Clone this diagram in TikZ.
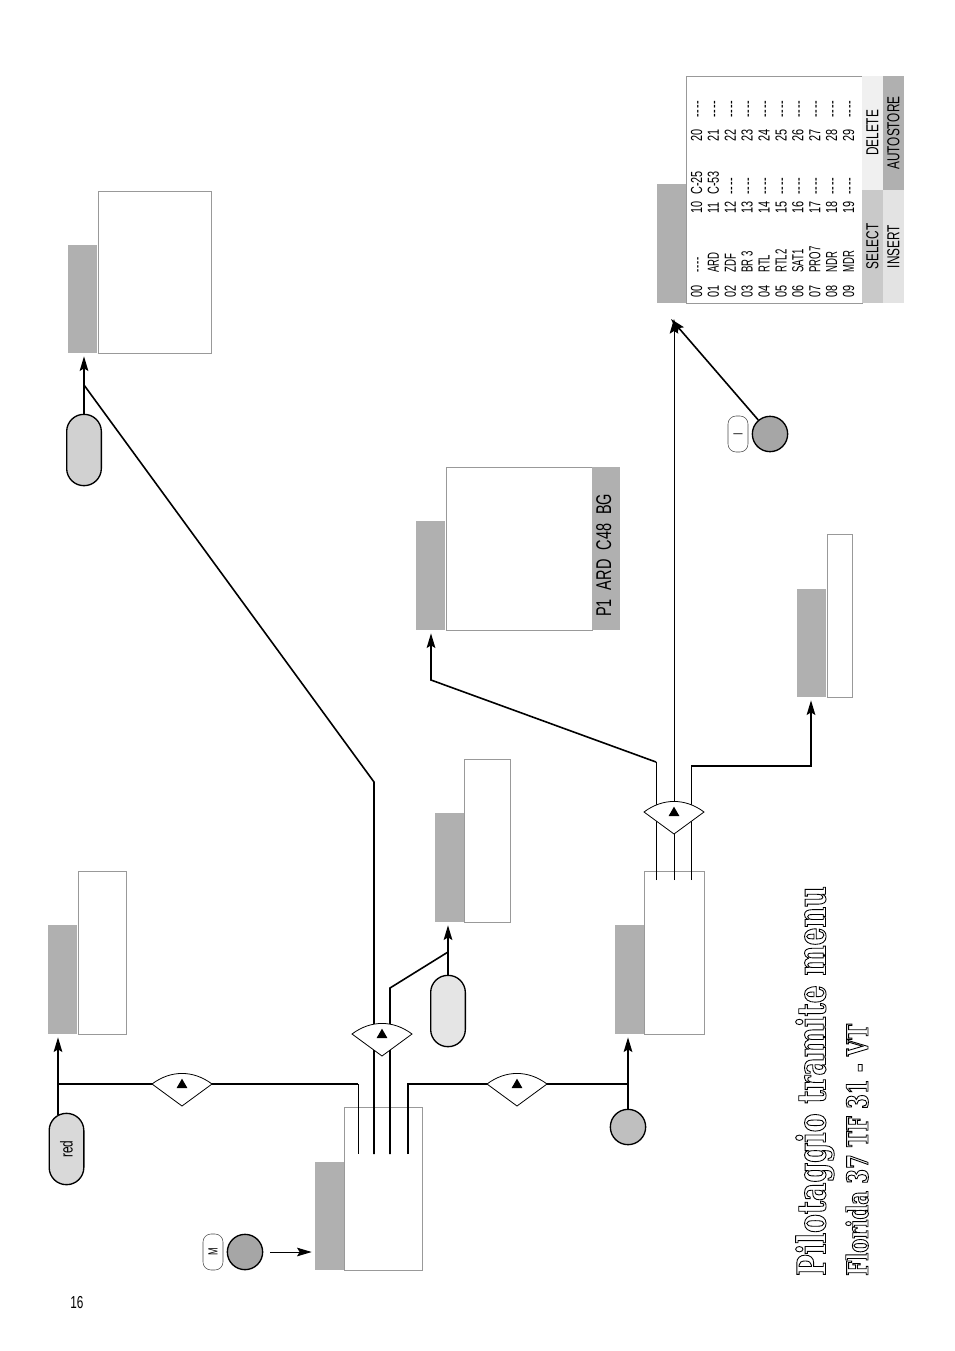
\documentclass[tikz,border=0pt]{standalone}
\usepackage{fontspec}
\usetikzlibrary{arrows.meta,shapes.geometric}
\setmainfont[FakeStretch=0.68]{Liberation Sans}
\newfontfamily\namefont[FakeStretch=0.6]{Liberation Sans}
\newfontfamily\titlefont[FakeStretch=0.72]{DejaVu Serif Bold}
\definecolor{tabgray}{HTML}{B0B0B0}
\definecolor{panegray}{HTML}{999999}
\newcommand{\nochan}{-\kern.7pt-\kern.7pt-\kern.7pt-}
\newcommand{\outlined}[1]{\special{pdf:code 1 Tr 0.65 w}#1\special{pdf:code 0 Tr}}
\tikzset{
  pane/.style 2 args={draw=panegray,fill=white,line width=.6pt,anchor=north west,inner sep=0,outer sep=0,minimum width=#1*.75pt,minimum height=#2*.75pt},
  tabpane/.style 2 args={fill=#2,anchor=north west,inner sep=0,outer sep=0,minimum width=29*.75pt,minimum height=#1*.75pt},
  softkey/.style 2 args={fill=#2,anchor=north west,inner sep=0,outer sep=0,minimum width=21*.75pt,minimum height=#1*.75pt},
  pill/.style={draw,line width=1pt,fill=#1,rotate=90,minimum width=53.5pt,minimum height=26pt,inner sep=0,rounded corners=12.9pt,font=\fontsize{13}{13}\selectfont},
  button/.style={draw,line width=1pt,fill=#1,circle,minimum size=26.5pt,inner sep=0},
  keycap/.style={draw=black!70,line width=.4pt,fill=white,rotate=90,minimum width=27pt,minimum height=15pt,inner sep=0,rounded corners=6pt,font=\fontsize{10}{10}\selectfont},
  wire/.style={line width=1.2pt},
  thinwire/.style={line width=.7pt},
  tip/.style={-{Stealth[length=11pt,width=6.5pt,inset=2pt]},shorten >=2.5pt},
  cell/.style={rotate=90,anchor=base west,inner sep=0,font=\fontsize{12}{12}\selectfont},
  softlabel/.style={rotate=90,inner sep=0,font=\fontsize{13}{13}\selectfont},
  pointer/.style={regular polygon,regular polygon sides=3,fill=black,inner sep=0,outer sep=0,minimum size=9.5pt}
}
\begin{document}
\begin{tikzpicture}[x=.75pt,y=-.75pt]
\useasboundingbox (0,0) rectangle (954,1351);
% tabs and screens
\node[tabpane={108}{tabgray}] (taba) at (68,245) {};
\node[pane={113}{162}] (panea) at (98,191) {};
\node[tabpane={109}{tabgray}] (tabb) at (416,521) {};
\node[pane={146}{163}] (paneb) at (446,467) {};
\node[fill=tabgray,anchor=north west,inner sep=0,outer sep=0,minimum width=28*.75pt,minimum height=163*.75pt] (barb) at (592,467) {};
\node[rotate=90,anchor=base west,inner sep=0,font=\fontsize{16}{16}\selectfont] (barbtext) at (611,617) {P1\hspace{.42em}ARD\hspace{.42em}C48\hspace{.42em}BG};
\node[tabpane={108}{tabgray}] (tabc) at (797,589) {};
\node[pane={25}{163}] (panec) at (827,534) {};
\node[tabpane={109}{tabgray}] (tabd) at (435,813) {};
\node[pane={46}{163}] (paned) at (464,759) {};
\node[tabpane={109}{tabgray}] (tabe) at (48,925) {};
\node[pane={48}{163}] (panee) at (78,871) {};
\node[tabpane={109}{tabgray}] (tabf) at (615,925) {};
\node[pane={60}{163}] (panef) at (644,871) {};
\node[tabpane={108}{tabgray}] (tabg) at (315,1162) {};
\node[pane={78}{163}] (paneg) at (344,1107) {};
% channel table
\node[tabpane={119}{tabgray}] (tabt) at (657,184) {};
\node[pane={176}{227}] (panet) at (686,76) {};
\node[softkey={114}{black!6}] (keydel) at (862,76) {};
\node[softkey={113}{black!21}] (keysel) at (862,190) {};
\node[softkey={114}{tabgray}] (keyauto) at (883,76) {};
\node[softkey={113}{black!11}] (keyins) at (883,190) {};
\node[softlabel] (deltext) at (keydel) {DELETE};
\node[softlabel] (seltext) at (keysel) {SELECT};
\node[softlabel] (autotext) at (keyauto) {AUTOSTORE};
\node[softlabel] (instext) at (keyins) {INSERT};
\foreach \i/\st in {0/\nochan,1/ARD,2/ZDF,3/BR 3,4/RTL,5/RTL2,6/SAT1,7/PRO7,8/NDR,9/MDR}{
  \node[cell] (codea\i) at (702+16.9*\i,298) {0\i};
  \node[cell] (namea\i) at (702+16.9*\i,273) {\namefont\st};
  \node[cell] (codec\i) at (702+16.9*\i,142) {2\i};
  \node[cell] (namec\i) at (702+16.9*\i,118) {\nochan};
}
\foreach \i/\st in {0/C-25,1/C-53,2/\nochan,3/\nochan,4/\nochan,5/\nochan,6/\nochan,7/\nochan,8/\nochan,9/\nochan}{
  \node[cell] (codeb\i) at (702+16.9*\i,214) {1\i};
  \node[cell] (nameb\i) at (702+16.9*\i,195) {\st};
}
% remote keys
\node[pill=black!15] (redpill) at (66.5,1149) {red};
\node[pill=black!18] (toppill) at (84,450) {};
\node[pill=black!10] (midpill) at (448,1011) {};
\node[button=black!25] (roundkey) at (628,1127) {};
\node[button=black!35] (menukey) at (245,1252) {};
\node[keycap] (mcap) at (213,1252) {M};
\node[button=black!35] (infokey) at (770,434) {};
\node[keycap] (icap) at (738,434) {I};
% wires from the menu screen
\coordinate (wa) at (358,1154);
\coordinate (wb) at (374,1154);
\coordinate (wc) at (390,1154);
\coordinate (wd) at (408,1154);
\coordinate (ja) at (58,1084);
\coordinate (jb) at (84,385);
\coordinate (jc) at (448,952);
\coordinate (jd) at (628,1084);
\draw[wire,tip] ([yshift=-1.5pt]redpill.east -| ja) -- (ja) -- (ja |- tabe.south);
\draw[wire] (ja) -- (wa |- ja);
\draw[thinwire] (wa |- ja) -- (wa);
\draw[wire,tip] (toppill.east) -- (jb) -- (jb |- taba.south);
\draw[wire] (wb) -- (374,782) -- (jb);
\draw[wire,tip] (midpill.east) -- (jc) -- (jc |- tabd.south);
\draw[wire] (wc) -- (390,988) -- (jc);
\draw[wire,tip] (roundkey.north) -- (jd) -- (jd |- tabf.south);
\draw[wire] (wd) -- (408,1084) -- (jd);
\draw[thinwire,tip] (menukey.east) ++(7,0) -- (menukey.east -| tabg.west);
% wires from the second screen
\coordinate (va) at (656,880);
\coordinate (vb) at (674,880);
\coordinate (vc) at (691,880);
\coordinate (je) at (431,680);
\coordinate (jf) at (811,766);
\coordinate (tabletipa) at (674,319);
\coordinate (tabletipb) at (671,319);
\draw[thinwire] (va) -- (656,762);
\draw[wire,tip] (656,762) -- (je) -- (je |- tabb.south);
\draw[thinwire,tip,shorten >=0pt] (vb) -- (tabletipa);
\draw[thinwire] (vc) -- (691,766);
\draw[wire,tip] (691,766) -- (jf) -- (jf |- tabc.south);
\draw[wire,tip,shorten >=0pt] (infokey.130) -- (tabletipb);
% fans
\foreach \fx/\fy/\fn in {382/1034/m,674/812/v,182/1084/r,517/1084/c}{
  \draw[fill=white,line width=.6pt] (\fx-30,\fy) to[bend left=37] (\fx+30,\fy) -- (\fx,\fy+22) -- cycle;
  \node[pointer] (fan\fn) at (\fx,\fy+1) {};
}
\node[inner sep=0,font=\fontsize{13}{13}\selectfont] (pagenum) at (77,1303) {16};
\node[rotate=90,anchor=base west,inner sep=0,font=\titlefont\fontsize{29.5}{29.5}\selectfont] (title) at (825.5,1276) {\outlined{Pilotaggio tramite menu}};
\node[rotate=90,anchor=base west,inner sep=0,font=\titlefont\fontsize{22}{22}\selectfont] (subtitle) at (868,1276) {\outlined{Florida 37 TF 31 - VT}};
\end{tikzpicture}
\end{document}
